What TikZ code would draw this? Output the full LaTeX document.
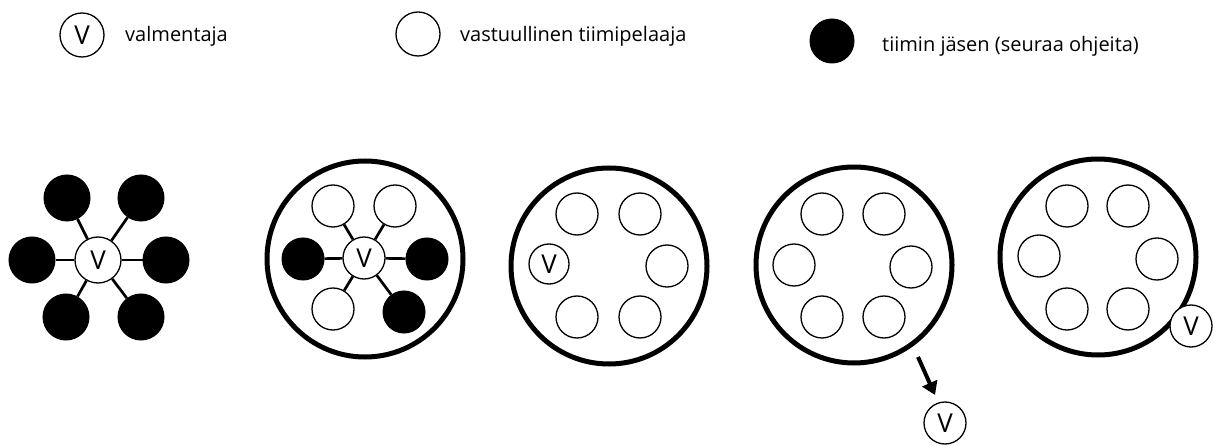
\documentclass[tikz,border=0pt]{standalone}
\usepackage{fontspec}
\setmainfont{Open Sans}
\usetikzlibrary{arrows.meta}
\begin{document}
\begin{tikzpicture}[x=1pt,y=-1pt,
  member/.style={circle,draw=black,fill=black,minimum size=44pt,inner sep=0pt,line width=1pt},
  player/.style={circle,draw=black,fill=white,minimum size=42pt,inner sep=0pt,line width=1.3pt},
  coach/.style={player,font=\fontsize{26}{26}\selectfont},
  team/.style={circle,draw=black,line width=5pt,minimum size=196pt,inner sep=0pt},
  link/.style={line width=2.7pt},
  label/.style={anchor=base west,inner sep=0pt,font=\fontsize{20}{24}\selectfont}]
\useasboundingbox (0,0) rectangle (1215,446);
% legend
\node[coach,minimum size=44pt] (lv) at (82,35) {V};
\node[label] (lvt) at (125,42) {valmentaja};
\node[player,minimum size=44pt] (lp) at (418,34) {};
\node[label] (lpt) at (460,42) {vastuullinen tiimipelaaja};
\node[member] (lm) at (832,41) {};
\node[label] (lmt) at (882,52) {tiimin jäsen (seuraa ohjeita)};
% diagram 1
\node[member,minimum size=46pt] (a1) at (67,198) {};
\node[member,minimum size=46pt] (a2) at (141,198) {};
\node[member,minimum size=46pt] (a3) at (32,260) {};
\node[member,minimum size=46pt] (a4) at (166,260) {};
\node[member,minimum size=46pt] (a5) at (66,317) {};
\node[member,minimum size=46pt] (a6) at (141,317) {};
\node[coach,minimum size=46pt] (av) at (98,260) {V};
\foreach \n in {a1,a2,a3,a4,a5,a6} \draw[link] (av) -- (\n);
% diagram 2
\node[team] (bt) at (365,259) {};
\node[player] (b1) at (333,206) {};
\node[player] (b2) at (395,206) {};
\node[member,minimum size=42pt] (b3) at (303,259) {};
\node[member,minimum size=42pt] (b4) at (427,259) {};
\node[player] (b5) at (333,309) {};
\node[member,minimum size=42pt] (b6) at (404,312) {};
\node[coach] (bv) at (364,258) {V};
\foreach \n in {b1,b2,b3,b4,b5,b6} \draw[link] (bv) -- (\n);
% diagram 3
\node[team] (ct) at (609,266) {};
\node[player] (c1) at (577,214) {};
\node[player] (c2) at (640,214) {};
\node[coach,minimum size=40pt] (cv) at (549,264) {V};
\node[player] (c4) at (667,266) {};
\node[player] (c5) at (577,317) {};
\node[player] (c6) at (640,317) {};
% diagram 4
\node[team] (dt) at (854,265) {};
\node[player] (d1) at (822,214) {};
\node[player] (d2) at (884,214) {};
\node[player] (d3) at (794,265) {};
\node[player] (d4) at (911,267) {};
\node[player] (d5) at (822,317) {};
\node[player] (d6) at (884,317) {};
\coordinate (ds) at (918,357);
\coordinate (de) at (935,395);
\draw[line width=4pt,-{Triangle[length=13pt,width=16pt]}] (ds) -- (de);
\node[coach] (dv) at (945,423) {V};
% diagram 5
\node[team] (et) at (1098,257) {};
\node[player] (e1) at (1067,206) {};
\node[player] (e2) at (1128,206) {};
\node[player] (e3) at (1039,256) {};
\node[player] (e4) at (1157,259) {};
\node[player] (e5) at (1067,309) {};
\node[player] (e6) at (1128,309) {};
\node[coach] (ev) at (1191,326) {V};
\end{tikzpicture}
\end{document}
